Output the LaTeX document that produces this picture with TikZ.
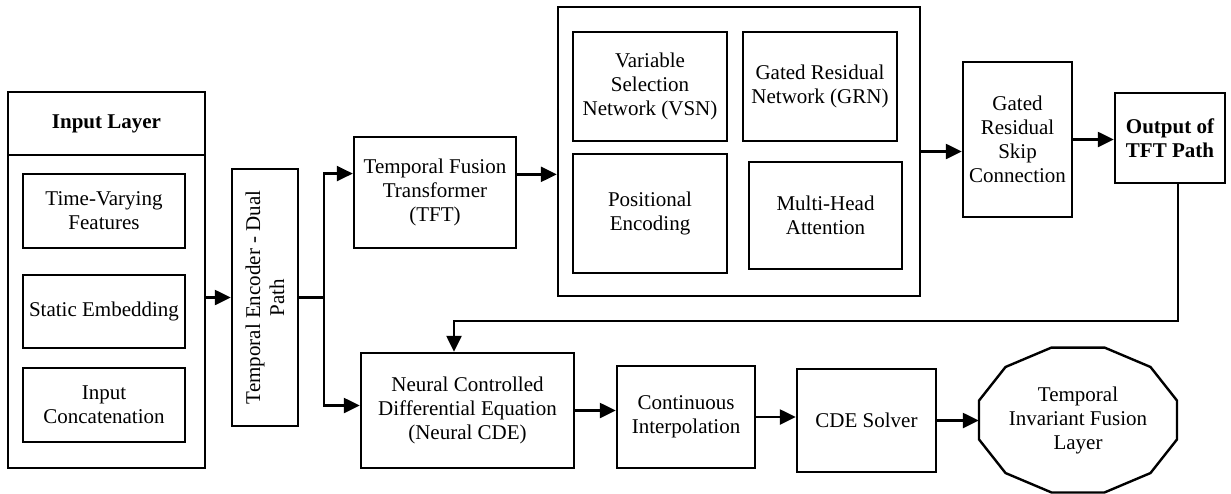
\documentclass[tikz,border=0pt]{standalone}
\usepackage{fontspec}
\setmainfont{Liberation Serif}
\usetikzlibrary{arrows.meta,calc}
\newcommand\dfont{\fontsize{21}{24}\selectfont}
\begin{document}
\begin{tikzpicture}[x=1pt,y=-1pt,
  box/.style={draw, line width=2.4pt, align=center, inner sep=0pt, font=\dfont},
  arr/.style={line width=2.4pt, -{Triangle[length=16pt,width=15pt]}},
  ln/.style={line width=2.4pt}]
\useasboundingbox (0,0) rectangle (1231,493);
% input layer
\node[box, minimum width=197pt, minimum height=376pt] (inp) at (106.5,280) {};
\node[box, minimum width=197pt, minimum height=63pt, font=\dfont\bfseries] (inphead) at (106.5,123.5) {Input Layer};
\node[box, minimum width=162pt, minimum height=74pt] (tvf) at (104,211) {Time-Varying\\Features};
\node[box, minimum width=162pt, minimum height=73pt] (se) at (104,311.5) {Static Embedding};
\node[box, minimum width=162pt, minimum height=74pt] (ic) at (104,405) {Input\\Concatenation};
% encoder
\node[box, rotate=90, minimum width=257pt, minimum height=66pt] (enc) at (265,297.5) {Temporal Encoder - Dual\\Path};
\coordinate (jn) at (324,297.5);
% TFT path
\node[box, minimum width=162pt, minimum height=111pt] (tft) at (435,192.5) {Temporal Fusion\\Transformer\\(TFT)};
\node[box, minimum width=362pt, minimum height=289pt] (big) at (739,151.5) {};
\node[box, minimum width=154pt, minimum height=109pt] (vsn) at (650,86.5) {Variable\\Selection\\Network (VSN)};
\node[box, minimum width=154pt, minimum height=109pt] (grn) at (820,86.5) {Gated Residual\\Network (GRN)};
\node[box, minimum width=154pt, minimum height=119pt] (pe) at (650,213.5) {Positional\\Encoding};
\node[box, minimum width=153pt, minimum height=107pt] (mha) at (825.5,215.5) {Multi-Head\\Attention};
\node[box, minimum width=109pt, minimum height=155pt] (skip) at (1017.5,139.5) {Gated\\Residual\\Skip\\Connection};
\node[box, minimum width=110pt, minimum height=90pt, font=\dfont\bfseries] (out) at (1170,138) {Output of\\TFT Path};
% CDE path
\node[box, minimum width=213pt, minimum height=115pt] (ncde) at (467.5,410.5) {Neural Controlled\\Differential Equation\\(Neural CDE)};
\node[box, minimum width=138pt, minimum height=102pt] (cont) at (686,417) {Continuous\\Interpolation};
\node[box, minimum width=139pt, minimum height=103pt] (cde) at (866.5,420.5) {CDE Solver};
\node[align=center, font=\dfont, inner sep=0pt, minimum width=198pt, minimum height=145pt] (tifl) at (1078,420) {Temporal\\Invariant Fusion\\Layer};
\draw[ln, shift={(tifl.center)}] (15:102.5 and 75) -- (45:102.5 and 75) -- (75:102.5 and 75) -- (105:102.5 and 75) -- (135:102.5 and 75) -- (165:102.5 and 75) -- (195:102.5 and 75) -- (225:102.5 and 75) -- (255:102.5 and 75) -- (285:102.5 and 75) -- (315:102.5 and 75) -- (345:102.5 and 75) -- cycle;
% connectors
\draw[arr] (inp.east |- enc.north) -- (enc.north);
\draw[ln] (enc.south) -- (jn);
\draw[arr] (jn) |- ($(tft.north west)!0.333!(tft.south west)$);
\draw[arr] (jn) |- ([yshift=5pt]ncde.west);
\draw[arr] ($(tft.north east)!0.34!(tft.south east)$) coordinate (t1) -- (t1 -| big.west);
\draw[arr] (big.east) -- (big.east -| skip.west);
\draw[arr] (skip.east) -- (skip.east -| out.west);
\draw[arr] ([xshift=8pt]out.south) -- ++(0,137) -| ([xshift=-13.5pt]ncde.north);
\draw[arr] (ncde.east) -- (ncde.east -| cont.west);
\draw[arr] (cont.east) -- (cont.east -| cde.west);
\draw[arr] (cde.east) -- (cde.east -| tifl.west);
\end{tikzpicture}
\end{document}
